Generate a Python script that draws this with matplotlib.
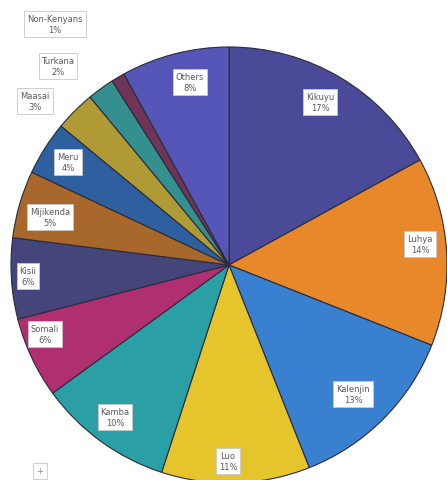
import matplotlib
matplotlib.use("Agg")
import matplotlib.pyplot as plt

# Share of population by ethnic group (%), clockwise from the top
groups = ["Kikuyu", "Luhya", "Kalenjin", "Luo", "Kamba", "Somali", "Kisii",
          "Mijikenda", "Meru", "Maasai", "Turkana", "Non-Kenyans", "Others"]
shares = [17, 14, 13, 11, 10, 6, 6, 5, 4, 3, 2, 1, 8]
colors = ["#4a4a98", "#e8882a", "#3a80d0", "#e6c42c", "#2a9fa5", "#b02f70",
          "#44457a", "#a8672b", "#2e5f9e", "#b09a35", "#33908f", "#6e3558",
          "#5656b8"]

# Callout label positions in figure pixels (x from left, y from top)
label_px = [(320, 103), (420, 245), (353, 395), (228, 462), (115, 418),
            (45, 335), (28, 277), (50, 218), (68, 163), (35, 102),
            (58, 67), (55, 25), (190, 83)]

W, H = 447, 481
fig = plt.figure(figsize=(W / 100, H / 100), dpi=100)
ax = fig.add_axes([0, 0, 1, 1])

ax.pie(shares, colors=colors, startangle=90, counterclock=False,
       center=(229, H - 266), radius=218,
       wedgeprops=dict(edgecolor="#2b2b3a", linewidth=0.8))

for name, val, (px, py) in zip(groups, shares, label_px):
    ax.text(px, H - py, f"{name}\n{val}%", ha="center", va="center",
            fontsize=6, color="#5a5a5a", linespacing=1.3,
            bbox=dict(boxstyle="square,pad=0.35", facecolor="white",
                      edgecolor="#c8c8c8", linewidth=0.6))

# small marker box in the lower-left corner
ax.text(40, H - 472, "+", ha="center", va="center", fontsize=6,
        color="#8a8a6a",
        bbox=dict(boxstyle="square,pad=0.4", facecolor="white",
                  edgecolor="#d8d2b0", linewidth=0.8))

ax.set_xlim(0, W)
ax.set_ylim(0, H)
ax.set_aspect("equal")
ax.axis("off")

fig.savefig("out.png", dpi=100, facecolor="white")
